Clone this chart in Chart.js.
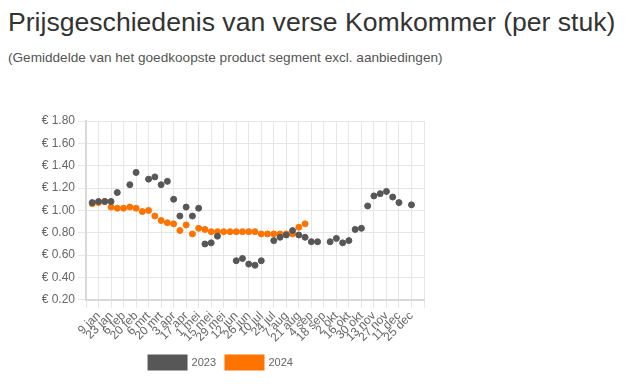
<!DOCTYPE html>
<html lang="nl">
<head>
<meta charset="utf-8">
<title>Prijsgeschiedenis Komkommer</title>
<script src="https://cdn.jsdelivr.net/npm/chart.js@4/dist/chart.umd.min.js"></script>
<style>
  html, body { margin: 0; padding: 0; background: #fff; }
  body { font-family: "Liberation Sans", Arial, Helvetica, sans-serif; width: 627px; height: 384px; overflow: hidden; position: relative; }
  h1 { position: absolute; left: 8px; top: 7px; margin: 0; font-size: 26.6px; font-weight: normal; color: #333; white-space: nowrap; }
  p.sub { position: absolute; left: 8px; top: 50px; margin: 0; font-size: 13.6px; color: #555; white-space: nowrap; }
  #wrap { position: absolute; left: 0; top: 100px; width: 440px; height: 279px; }
</style>
</head>
<body>
<h1>Prijsgeschiedenis van verse Komkommer (per stuk)</h1>
<p class="sub">(Gemiddelde van het goedkoopste product segment excl. aanbiedingen)</p>
<div id="wrap"><canvas id="priceChart"></canvas></div>

<script>
// Weeks (Monday of each week), index 0 = first week of the year
const weekLabels = [
  "2 jan", "9 jan", "16 jan", "23 jan", "30 jan", "6 feb", "13 feb", "20 feb", "27 feb",
  "6 mrt", "13 mrt", "20 mrt", "27 mrt", "3 apr", "10 apr", "17 apr", "24 apr",
  "1 mei", "8 mei", "15 mei", "22 mei", "29 mei", "5 jun", "12 jun", "19 jun", "26 jun",
  "3 jul", "10 jul", "17 jul", "24 jul", "31 jul", "7 aug", "14 aug", "21 aug", "28 aug",
  "4 sep", "11 sep", "18 sep", "25 sep", "2 okt", "9 okt", "16 okt", "23 okt", "30 okt",
  "6 nov", "13 nov", "20 nov", "27 nov", "4 dec", "11 dec", "18 dec", "25 dec"
];

const prices2023 = [
  1.07, 1.08, 1.08, 1.08, 1.16, null, 1.23, 1.34, null, 1.28,
  1.30, 1.23, 1.26, 1.10, 0.95, 1.03, 0.95, 1.02, 0.70, 0.71,
  0.77, null, null, 0.55, 0.57, 0.52, 0.51, 0.55, null, 0.73,
  0.76, 0.78, 0.82, 0.78, 0.76, 0.72, 0.72, null, 0.72, 0.75,
  0.71, 0.73, 0.83, 0.84, 1.04, 1.13, 1.15, 1.17, 1.12, 1.07,
  null, 1.05
];

const prices2024 = [
  1.06, 1.07, 1.08, 1.03, 1.02, 1.02, 1.03, 1.02, 0.99, 1.00,
  0.95, 0.91, 0.89, 0.88, 0.82, 0.87, 0.79, 0.84, 0.83, 0.81,
  0.81, 0.81, 0.81, 0.81, 0.81, 0.81, 0.81, 0.79, 0.79, 0.79,
  0.79, 0.79, 0.79, 0.85, 0.88
];

const seriesNames = ["2023", "2024"];
const seriesColors = ["#575757", "#ff7300"];

// x-axis shows every other week, plus the two edges
const tickWeeks = [-1];
for (let i = 1; i < weekLabels.length; i += 2) tickWeeks.push(i);
tickWeeks.push(weekLabels.length + 1);

function toPoints(values) {
  return values.map((v, i) => ({ x: i, y: v }));
}

Chart.defaults.font.family = '"Liberation Sans", Arial, Helvetica, sans-serif';
Chart.defaults.font.size = 12;
Chart.defaults.color = "#666";

const ctx = document.getElementById("priceChart").getContext("2d");
new Chart(ctx, {
  type: "line",
  data: {
    datasets: [prices2023, prices2024].map((values, i) => ({
      label: seriesNames[i],
      data: toPoints(values),
      showLine: false,
      backgroundColor: seriesColors[i],
      borderColor: seriesColors[i],
      pointRadius: 3,
      pointBorderWidth: 1,
      pointHoverRadius: 4
    }))
  },
  options: {
    responsive: true,
    maintainAspectRatio: false,
    animation: false,
    layout: { padding: { left: 18, right: 16, top: 21, bottom: 0 } },
    plugins: {
      legend: {
        position: "bottom",
        labels: { boxWidth: 37, boxHeight: 13, padding: 10, color: "#666", font: { size: 11 } }
      },
      tooltip: { enabled: false }
    },
    scales: {
      x: {
        type: "linear",
        min: -1,
        max: weekLabels.length + 1,
        afterBuildTicks: axis => { axis.ticks = tickWeeks.map(v => ({ value: v })); },
        ticks: {
          autoSkip: false,
          maxRotation: 45,
          minRotation: 45,
          padding: 1,
          callback: value => weekLabels[value] || ""
        },
        grid: { color: "#e6e6e6" },
        border: { color: "#d9d9d9", width: 2 }
      },
      y: {
        min: 0.2,
        max: 1.8,
        afterFit: axis => { axis.width = 68; },
        ticks: {
          stepSize: 0.2,
          callback: value => "€ " + value.toFixed(2)
        },
        grid: { color: "#e6e6e6" },
        border: { color: "#d9d9d9", width: 2 }
      }
    }
  }
});
</script>
</body>
</html>
